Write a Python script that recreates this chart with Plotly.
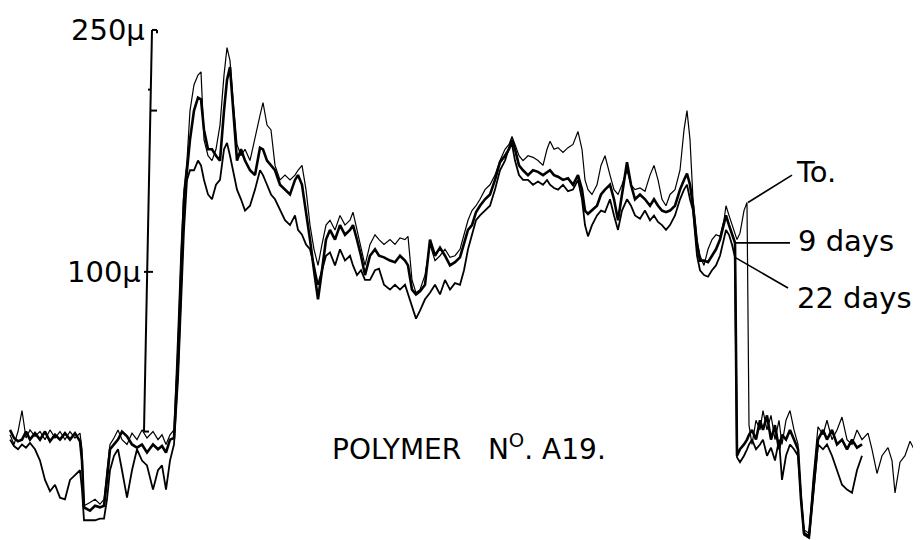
import plotly.graph_objects as go

# scan position along the film (arbitrary units) and thickness (microns)
position = [
    10, 14, 18, 22, 26, 30, 35, 40, 45, 50,
    55, 60, 65, 70, 75, 80, 82, 84, 90, 95,
    100, 104, 107, 110, 114, 118, 122, 127, 132, 137,
    142, 147, 153, 158, 162, 166, 170, 174, 178, 181,
    184, 187, 190, 194, 198, 201, 204, 208, 212, 216,
    220, 224, 227, 230, 233, 237, 241, 245, 250, 255,
    260, 263, 267, 271, 275, 280, 285, 290, 295, 298,
    302, 306, 310, 314, 318, 322, 326, 330, 335, 340,
    345, 350, 353, 357, 361, 365, 370, 375, 379, 384,
    390, 395, 400, 405, 408, 412, 416, 420, 425, 430,
    435, 440, 445, 450, 455, 460, 464, 468, 472, 476,
    480, 485, 490, 495, 500, 505, 509, 512, 515, 519,
    523, 528, 533, 538, 543, 547, 550, 554, 558, 563,
    568, 573, 578, 582, 585, 588, 592, 597, 601, 605,
    610, 614, 618, 622, 627, 631, 635, 640, 645, 650,
    654, 658, 662, 666, 670, 675, 680, 684, 687, 690,
    693, 697, 700, 704, 708, 712, 716, 720, 724, 726,
    729, 732, 735, 737, 740, 744, 747, 749, 752, 756,
    760, 763, 767, 771, 775, 779, 782, 786, 790, 794,
    798, 801, 804, 809, 813, 818, 823, 827, 832, 837,
    842, 847, 852, 857, 862, 868, 872, 877, 882, 888,
    892, 895, 900, 905, 910, 914, 918,
]

thick_t0 = [
    -1, -7, 1, 14, -3, 2, -2, 1, -4, 2,
    -3, 1, -4, 1, -3, 0, -10, -45, -43, -41,
    -44, -41, -23, -7, -3, 2, -4, -7, 0, -4,
    2, -3, 1, -4, -1, -7, -1, 2, 64, 114,
    151, 169, 200, 216, 222, 224, 182, 172, 169, 176,
    191, 222, 239, 231, 207, 179, 172, 176, 169, 182,
    197, 205, 191, 188, 166, 157, 160, 157, 160, 163,
    166, 151, 129, 114, 104, 117, 129, 132, 126, 135,
    129, 132, 137, 126, 114, 104, 117, 123, 120, 117,
    120, 117, 121, 120, 122, 95, 87, 89, 98, 117,
    107, 110, 114, 109, 110, 114, 123, 132, 138, 141,
    145, 151, 154, 160, 169, 176, 179, 184, 179, 172,
    169, 172, 171, 169, 166, 176, 181, 176, 177, 174,
    177, 179, 187, 176, 157, 151, 148, 154, 166, 172,
    160, 151, 148, 154, 163, 154, 151, 152, 150, 160,
    166, 157, 145, 141, 148, 151, 163, 188, 200, 182,
    145, 120, 110, 104, 114, 120, 123, 122, 132, 141,
    135, 129, 123, 120, 124, 138, 143, 5, -7, 8,
    2, 14, 2, 11, -4, 8, -7, 8, 14, 2,
    -7, -41, -60, -62, -29, 4, -1, 8, -4, 2,
    10, -4, -7, 2, -4, 0, -10, -25, -14, -9,
    -17, -37, -18, -14, -5, -10, -15,
]

thick_9d = [
    2, -3, -5, -4, 1, -4, 0, -4, 1, -5,
    -1, -4, 0, -4, 0, -5, -17, -46, -48, -45,
    -46, -45, -29, -10, -7, -4, 1, -2, -7, -9,
    -7, -12, -7, -10, -8, -12, -4, -3, 45, 101,
    145, 163, 182, 200, 208, 207, 188, 176, 176, 172,
    169, 200, 219, 227, 200, 169, 176, 169, 163, 160,
    177, 176, 169, 166, 163, 154, 151, 148, 157, 160,
    154, 138, 120, 101, 83, 101, 120, 126, 120, 129,
    123, 126, 129, 120, 110, 98, 110, 114, 110, 109,
    107, 106, 110, 107, 104, 89, 86, 88, 92, 120,
    110, 115, 110, 104, 106, 109, 117, 126, 129, 137,
    141, 145, 148, 157, 168, 172, 176, 182, 176, 166,
    163, 160, 163, 162, 160, 162, 163, 160, 159, 157,
    158, 154, 160, 151, 138, 136, 138, 141, 148, 151,
    154, 145, 132, 148, 168, 154, 145, 148, 145, 141,
    145, 141, 138, 137, 138, 141, 151, 157, 161, 154,
    141, 117, 107, 107, 106, 110, 114, 120, 129, 135,
    129, 123, 118, -14, -10, -7, -4, -1, 2, -4,
    8, 2, 11, -4, 5, -10, -1, -4, 2, -4,
    -10, -41, -62, -64, -35, -4, 2, -4, 2, -7,
    -4, -10, -4, -9, -7,
]

thick_22d = [
    -4, -8, -10, -7, -9, -6, -10, -17, -29, -36,
    -32, -40, -41, -29, -26, -23, -35, -54, -54, -54,
    -53, -53, -41, -23, -14, -10, -23, -40, -23, -10,
    -17, -20, -35, -23, -20, -35, -17, -7, 33, 83,
    126, 157, 163, 163, 169, 166, 157, 148, 145, 154,
    157, 176, 180, 172, 163, 151, 145, 138, 141, 151,
    163, 160, 154, 148, 145, 138, 132, 129, 135, 126,
    123, 117, 114, 104, 92, 101, 110, 112, 104, 114,
    107, 110, 104, 98, 101, 95, 95, 101, 102, 92,
    89, 92, 89, 92, 86, 79, 71, 76, 83, 87,
    92, 86, 95, 89, 93, 92, 101, 114, 123, 132,
    135, 138, 141, 151, 163, 169, 177, 179, 169, 160,
    157, 157, 154, 156, 154, 157, 154, 152, 151, 154,
    150, 151, 157, 145, 129, 122, 129, 135, 138, 137,
    145, 135, 126, 138, 145, 141, 135, 133, 138, 132,
    135, 131, 129, 126, 129, 135, 145, 151, 154, 145,
    138, 110, 101, 98, 97, 101, 104, 110, 120, 126,
    123, 117, 109, -15, -18, -14, -10, -7, -4, -10,
    -7, -4, -14, -9, -17, -4, -29, -14, -7, -10,
    -14, -41, -63, -65, -41, -7, -10, -7, -14, -23,
    -32, -35, -37, -23, -14,
]

tick_vals = [100, 250]
tick_text = ["100\u03bc", "250\u03bc"]

FONT = "DejaVu Sans, Liberation Sans, sans-serif"

fig = go.Figure()
fig.add_trace(go.Scatter(x=position[:len(thick_22d)], y=thick_22d, mode="lines",
                         line=dict(color="black", width=1.8), name="22 days"))
fig.add_trace(go.Scatter(x=position[:len(thick_9d)], y=thick_9d, mode="lines",
                         line=dict(color="black", width=2.6), name="9 days"))
fig.add_trace(go.Scatter(x=position, y=thick_t0, mode="lines",
                         line=dict(color="black", width=1.2), name="To."))

# hand drawn thickness axis
ax_line = dict(color="black", width=2)
shapes = [
    dict(type="line", x0=152, y0=250, x1=144, y1=1, line=ax_line),
    dict(type="line", x0=144, y0=1, x1=149, y1=1, line=ax_line),
    dict(type="line", x0=152, y0=250, x1=157, y1=250, line=ax_line),
    dict(type="line", x0=157, y0=250, x1=157, y1=248, line=ax_line),
    dict(type="line", x0=151, y0=200, x1=157, y1=200, line=ax_line),
    dict(type="line", x0=148, y0=213, x1=151, y1=213, line=ax_line),
    dict(type="line", x0=144, y0=100, x1=153, y1=100, line=ax_line),
]

# leader lines from curve ends to the labels
i9 = position.index(735)
it0 = position.index(747)
lead = dict(color="black", width=1.6)
shapes += [
    dict(type="line", x0=748, y0=thick_t0[it0], x1=792, y1=160, line=lead),
    dict(type="line", x0=735, y0=thick_9d[i9], x1=790, y1=thick_9d[i9], line=lead),
    dict(type="line", x0=735, y0=thick_22d[i9], x1=788, y1=90, line=lead),
]

annotations = [
    dict(x=147, y=tick_vals[1], text=tick_text[1], xanchor="right", yanchor="middle"),
    dict(x=143, y=tick_vals[0], text=tick_text[0], xanchor="right", yanchor="middle"),
    dict(x=794, y=162, text="To.", xanchor="left", yanchor="middle"),
    dict(x=796, y=119, text="9 days", xanchor="left", yanchor="middle"),
    dict(x=795, y=84, text="22 days", xanchor="left", yanchor="middle"),
    dict(x=330, y=-9, text="POLYMER   N<sup>O</sup>. A19.", xanchor="left", yanchor="middle",
         font=dict(size=28)),
]
for a in annotations:
    a.update(xref="x", yref="y", showarrow=False)
    a.setdefault("font", dict(size=29))
    a["font"].update(family=FONT, color="black")

# the page body adds an 8px margin, so the ranges are shifted to compensate
fig.update_layout(
    width=921, height=540,
    margin=dict(l=0, r=0, t=0, b=0),
    paper_bgcolor="white", plot_bgcolor="white",
    showlegend=False,
    xaxis=dict(range=[8, 929], visible=False),
    yaxis=dict(range=[-71.2, 263.6], visible=False),
    shapes=shapes,
    annotations=annotations,
)

fig.write_html("out.html")
